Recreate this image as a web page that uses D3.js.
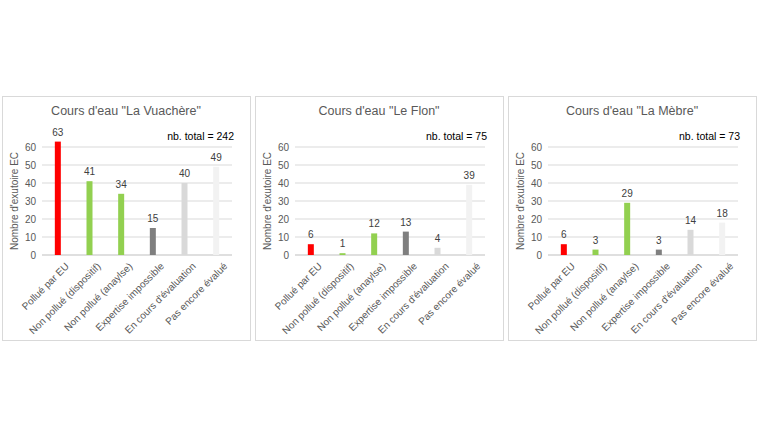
<!DOCTYPE html>
<html>
<head>
<meta charset="utf-8">
<script src="https://cdn.jsdelivr.net/npm/d3@7"></script>
<style>
  body { margin: 0; background: #fff; }
  text { font-family: "Liberation Sans", Arial, sans-serif; }
</style>
</head>
<body>
<svg id="chart" width="760" height="440"></svg>
<script>
const categories = ["Pollué par EU", "Non pollué (dispositif)", "Non pollué (anaylse)",
                    "Expertise impossible", "En cours d'évaluation", "Pas encore évalué"];
const barColors = ["#ff0000", "#92d050", "#92d050", "#7f7f7f", "#d9d9d9", "#f2f2f2"];
const panelTitles = ["Cours d'eau \"La Vuachère\"", "Cours d'eau \"Le Flon\"", "Cours d'eau \"La Mèbre\""];
const totals = [242, 75, 73];
const vuachere = [63, 41, 34, 15, 40, 49];
const flon = [6, 1, 12, 13, 4, 39];
const mebre = [6, 3, 29, 3, 14, 18];
const yTicks = [0, 10, 20, 30, 40, 50, 60];

const series = [vuachere, flon, mebre];
const svg = d3.select("#chart");
const panelX = [2, 255, 508];
const panelW = 248, panelH = 244, panelY = 96;

series.forEach((vals, p) => {
    let g = svg.append("g").attr("transform", `translate(${panelX[p]}, ${panelY})`);
    g.append("rect").attr("x", 0.5).attr("y", 0.5).attr("width", panelW).attr("height", panelH)
        .attr("fill", "#fff").attr("stroke", "#d9d9d9");
    g.append("text").attr("x", panelW / 2).attr("y", 19).attr("text-anchor", "middle")
        .attr("font-size", 12.5).attr("fill", "#595959").text(panelTitles[p]);

    let x = d3.scaleBand().domain(categories).range([40, 230]);
    let y = d3.scaleLinear().domain([0, 60]).range([159, 51]);

    g.selectAll(".grid").data(yTicks).join("line")
        .attr("x1", 40).attr("x2", 230)
        .attr("y1", d => y(d)).attr("y2", d => y(d))
        .attr("stroke", d => d === 0 ? "#bfbfbf" : "#d9d9d9");

    let yAxis = g.append("g").attr("transform", "translate(40,0)")
        .call(d3.axisLeft(y).tickValues(yTicks).tickSize(0).tickPadding(6));
    yAxis.select(".domain").remove();
    yAxis.selectAll("text").attr("font-size", 10).attr("fill", "#595959")
        .style("font-family", "Liberation Sans, Arial, sans-serif");

    g.append("text").attr("transform", `translate(16, ${y(30)}) rotate(-90)`)
        .attr("text-anchor", "middle").attr("font-size", 10).attr("fill", "#595959")
        .text("Nombre d'exutoire EC");

    let bw = 6;
    g.selectAll(".bar").data(vals).join("rect")
        .attr("x", (d, i) => x(categories[i]) + x.bandwidth() / 2 - bw / 2)
        .attr("y", d => y(d))
        .attr("width", bw)
        .attr("height", d => y(0) - y(d))
        .attr("fill", (d, i) => barColors[i]);

    g.selectAll(".lbl").data(vals).join("text")
        .attr("x", (d, i) => x(categories[i]) + x.bandwidth() / 2)
        .attr("y", d => y(d) - 6)
        .attr("text-anchor", "middle").attr("font-size", 10).attr("fill", "#404040")
        .text(d => d);

    let xAxis = g.append("g").attr("transform", `translate(0, ${y(0)})`)
        .call(d3.axisBottom(x).tickSize(0).tickPadding(4));
    xAxis.select(".domain").remove();
    xAxis.selectAll("text")
        .attr("font-size", 10).attr("fill", "#595959")
        .style("font-family", "Liberation Sans, Arial, sans-serif")
        .attr("text-anchor", "end")
        .attr("transform", "translate(4,4) rotate(-45)");

    g.append("text").attr("x", 232).attr("y", 44).attr("text-anchor", "end")
        .attr("font-size", 10.5).attr("fill", "#000").text(`nb. total = ${totals[p]}`);
});
</script>
</body>
</html>
